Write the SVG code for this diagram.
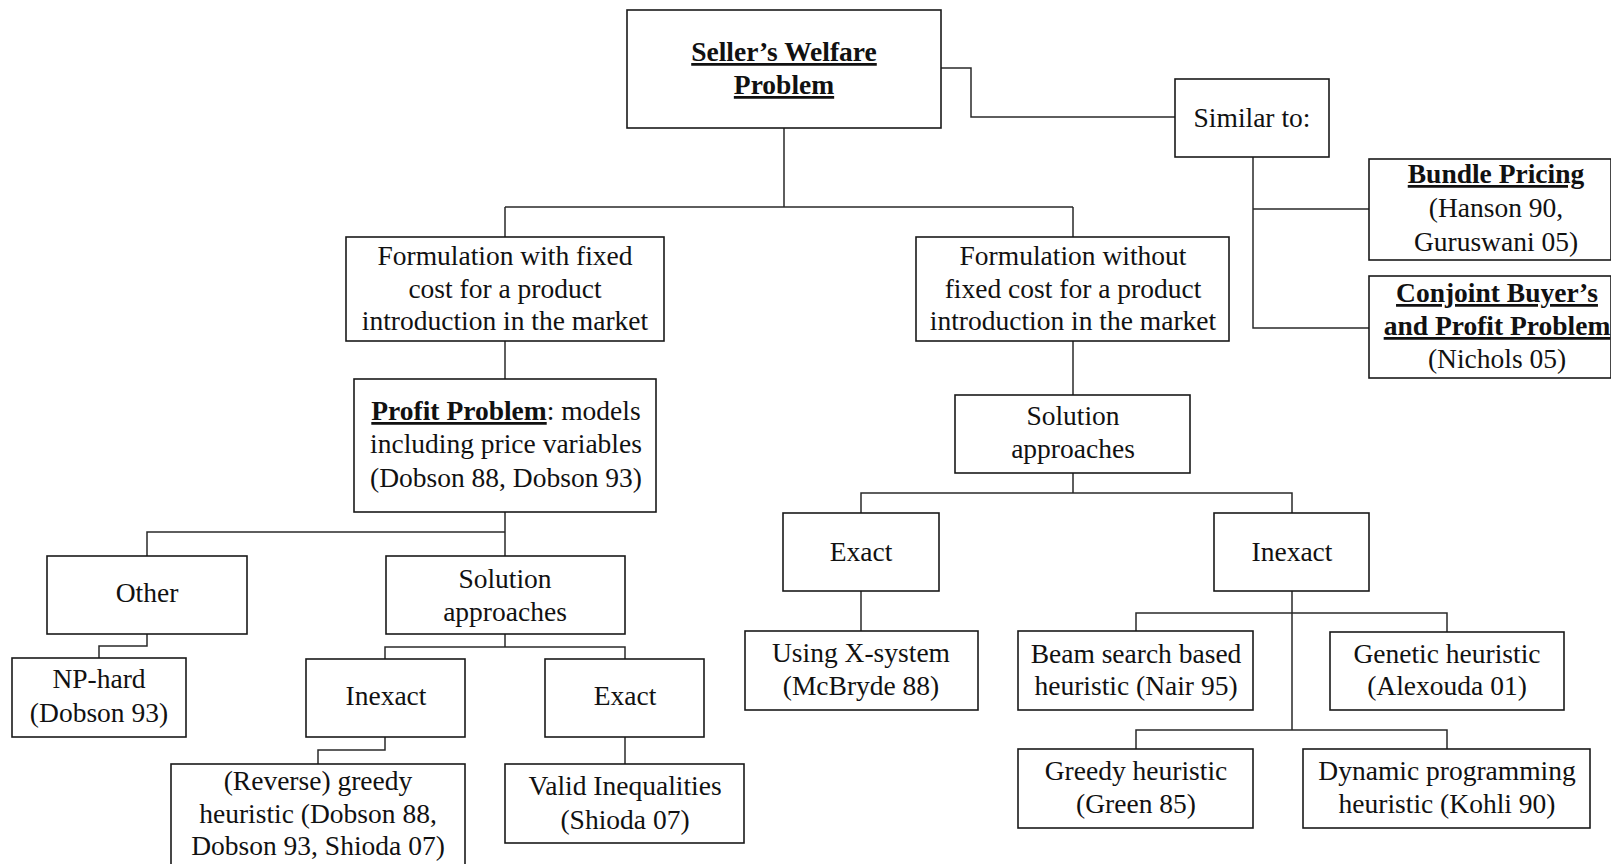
<svg xmlns="http://www.w3.org/2000/svg" width="1611" height="864" viewBox="0 0 1611 864">
  <style>
    .box { fill: #ffffff; stroke: #1a1a1a; stroke-width: 1.6; }
    .link { fill: none; stroke: #2a2a2a; stroke-width: 1.5; }
    text { font-family: "Liberation Serif", "Times New Roman", serif; font-size: 27.5px; fill: #111111; text-anchor: middle; }
    .title { font-weight: bold; text-decoration: underline; }
  </style>
  <rect x="0" y="0" width="1611" height="864" fill="#ffffff"/>

  <!-- connectors -->
  <g id="connectors">
    <path class="link" d="M784 128 V207 M505 207 H1073 M505 207 V237 M1073 207 V237"/>
    <path class="link" d="M941 68 H971 V117 H1175"/>
    <path class="link" d="M1253 157 V328 H1369 M1253 209 H1369"/>
    <path class="link" d="M505 341 V379"/>
    <path class="link" d="M1073 341 V395"/>
    <path class="link" d="M505 512 V532 H147 V556 M505 532 V556"/>
    <path class="link" d="M147 634 V646 H99 V658"/>
    <path class="link" d="M505 634 V647 H385 V659 M505 647 H625 V659"/>
    <path class="link" d="M385 737 V750 H318 V764"/>
    <path class="link" d="M625 737 V764"/>
    <path class="link" d="M1073 473 V493 H861 V513 M1073 493 H1292 V513"/>
    <path class="link" d="M861 591 V631"/>
    <path class="link" d="M1292 591 V730 M1136 631 V613 H1447 V632 M1136 749 V730 H1447 V749"/>
  </g>

  <g id="seller-welfare">
    <rect class="box" x="627" y="10" width="314" height="118"/>
    <text class="title" x="784" y="61">Seller’s Welfare</text>
    <text class="title" x="784" y="94">Problem</text>
  </g>

  <g id="similar-to">
    <rect class="box" x="1175" y="79" width="154" height="78"/>
    <text x="1252" y="127">Similar to:</text>
  </g>

  <g id="bundle-pricing">
    <rect class="box" x="1369" y="159" width="242" height="101"/>
    <text class="title" x="1496" y="183">Bundle Pricing</text>
    <text x="1496" y="217">(Hanson 90,</text>
    <text x="1496" y="251">Guruswani 05)</text>
  </g>

  <g id="conjoint">
    <rect class="box" x="1369" y="276" width="242" height="102"/>
    <text class="title" x="1497" y="302">Conjoint Buyer’s</text>
    <text class="title" x="1497" y="335">and Profit Problem</text>
    <text x="1497" y="368">(Nichols 05)</text>
  </g>

  <g id="formulation-with">
    <rect class="box" x="346" y="237" width="318" height="104"/>
    <text x="505" y="265">Formulation with fixed</text>
    <text x="505" y="298">cost for a product</text>
    <text x="505" y="330">introduction in the market</text>
  </g>

  <g id="formulation-without">
    <rect class="box" x="916" y="237" width="313" height="104"/>
    <text x="1073" y="265">Formulation without</text>
    <text x="1073" y="298">fixed cost for a product</text>
    <text x="1073" y="330">introduction in the market</text>
  </g>

  <g id="profit-problem">
    <rect class="box" x="354" y="379" width="302" height="133"/>
    <text x="506" y="420"><tspan class="title">Profit Problem</tspan>: models</text>
    <text x="506" y="453">including price variables</text>
    <text x="506" y="487">(Dobson 88, Dobson 93)</text>
  </g>

  <g id="solution-right">
    <rect class="box" x="955" y="395" width="235" height="78"/>
    <text x="1073" y="425">Solution</text>
    <text x="1073" y="458">approaches</text>
  </g>

  <g id="exact-right">
    <rect class="box" x="783" y="513" width="156" height="78"/>
    <text x="861" y="561">Exact</text>
  </g>

  <g id="inexact-right">
    <rect class="box" x="1214" y="513" width="155" height="78"/>
    <text x="1292" y="561">Inexact</text>
  </g>

  <g id="x-system">
    <rect class="box" x="745" y="631" width="233" height="79"/>
    <text x="861" y="662">Using X-system</text>
    <text x="861" y="695">(McBryde 88)</text>
  </g>

  <g id="beam-search">
    <rect class="box" x="1018" y="631" width="235" height="79"/>
    <text x="1136" y="663">Beam search based</text>
    <text x="1136" y="695">heuristic (Nair 95)</text>
  </g>

  <g id="genetic">
    <rect class="box" x="1330" y="632" width="234" height="78"/>
    <text x="1447" y="663">Genetic heuristic</text>
    <text x="1447" y="695">(Alexouda 01)</text>
  </g>

  <g id="greedy">
    <rect class="box" x="1018" y="749" width="235" height="79"/>
    <text x="1136" y="780">Greedy heuristic</text>
    <text x="1136" y="813">(Green 85)</text>
  </g>

  <g id="dynamic-programming">
    <rect class="box" x="1303" y="749" width="287" height="79"/>
    <text x="1447" y="780">Dynamic programming</text>
    <text x="1447" y="813">heuristic (Kohli 90)</text>
  </g>

  <g id="other">
    <rect class="box" x="47" y="556" width="200" height="78"/>
    <text x="147" y="602">Other</text>
  </g>

  <g id="solution-left">
    <rect class="box" x="386" y="556" width="239" height="78"/>
    <text x="505" y="588">Solution</text>
    <text x="505" y="621">approaches</text>
  </g>

  <g id="np-hard">
    <rect class="box" x="12" y="658" width="174" height="79"/>
    <text x="99" y="688">NP-hard</text>
    <text x="99" y="722">(Dobson 93)</text>
  </g>

  <g id="inexact-left">
    <rect class="box" x="306" y="659" width="159" height="78"/>
    <text x="386" y="705">Inexact</text>
  </g>

  <g id="exact-left">
    <rect class="box" x="545" y="659" width="159" height="78"/>
    <text x="625" y="705">Exact</text>
  </g>

  <g id="reverse-greedy">
    <rect class="box" x="171" y="764" width="294" height="120"/>
    <text x="318" y="790">(Reverse) greedy</text>
    <text x="318" y="823">heuristic (Dobson 88,</text>
    <text x="318" y="855">Dobson 93, Shioda 07)</text>
  </g>

  <g id="valid-inequalities">
    <rect class="box" x="505" y="764" width="239" height="79"/>
    <text x="625" y="795">Valid Inequalities</text>
    <text x="625" y="829">(Shioda 07)</text>
  </g>
</svg>
